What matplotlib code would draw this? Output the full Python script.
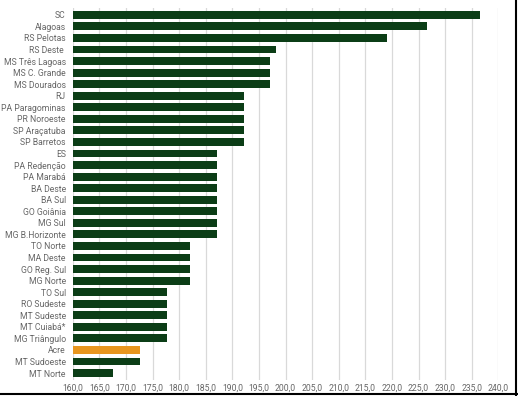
import matplotlib
matplotlib.use('Agg')
import matplotlib.pyplot as plt
from matplotlib.lines import Line2D

labels = ['SC', 'Alagoas', 'RS Pelotas', 'RS Deste ', 'MS Três Lagoas', 'MS C. Grande',
          'MS Dourados', 'RJ', 'PA Paragominas', 'PR Noroeste', 'SP Araçatuba',
          'SP Barretos', 'ES', 'PA Redenção', 'PA Marabá', 'BA Deste', 'BA Sul',
          'GO Goiânia', 'MG Sul', 'MG B.Horizonte', 'TO Norte', 'MA Deste',
          'GO Reg. Sul', 'MG Norte', 'TO Sul', 'RO Sudeste', 'MT Sudeste',
          'MT Cuiabá*', 'MG Triângulo', 'Acre', 'MT Sudoeste', 'MT Norte']
values = [236.5, 226.6, 219.1, 198.2, 197.1, 197.1, 197.1,
          192.2, 192.2, 192.2, 192.2, 192.2,
          187.1, 187.1, 187.1, 187.1, 187.1, 187.1, 187.1, 187.1,
          182.0, 182.0, 182.0, 182.0,
          177.7, 177.7, 177.7, 177.7, 177.7,
          172.6, 172.6, 167.6]
highlight = 'Acre'
ticks = [160 + 5 * i for i in range(17)]

green = '#0b3d16'
orange = '#e8961f'
text_col = '#666666'

plt.rcParams['font.family'] = ['Roboto', 'DejaVu Sans']

fig = plt.figure(figsize=(5.18, 3.96), dpi=100)
ax = fig.add_axes([0.1405, 0.0404, 0.962 - 0.1405, 0.98 - 0.0404])

base = 160
colors = [orange if l == highlight else green for l in labels]
ax.barh(range(len(labels)), [v - base for v in values], left=base,
        height=0.68, color=colors, zorder=3)

ax.set_xlim(160, 240)
ax.set_ylim(len(labels) - 0.4, -0.6)
ax.set_xticks(ticks)
ax.set_xticklabels([('%.1f' % t).replace('.', ',') for t in ticks])
ax.set_yticks(range(len(labels)))
ax.set_yticklabels(labels)
ax.tick_params(axis='both', length=0, labelsize=6.2, labelcolor=text_col)
ax.tick_params(axis='y', pad=5)
ax.tick_params(axis='x', pad=3)
ax.grid(axis='x', color='#d9d9d9', linewidth=0.9, zorder=0)
for s in ax.spines.values():
    s.set_visible(False)

# thin dark border on right and bottom of image
fig.add_artist(Line2D([0.9965, 0.9965], [0, 1], color='black', linewidth=1.5, transform=fig.transFigure))
fig.add_artist(Line2D([0, 1], [0.004, 0.004], color='black', linewidth=1.5, transform=fig.transFigure))

plt.savefig('out.png', dpi=100)
